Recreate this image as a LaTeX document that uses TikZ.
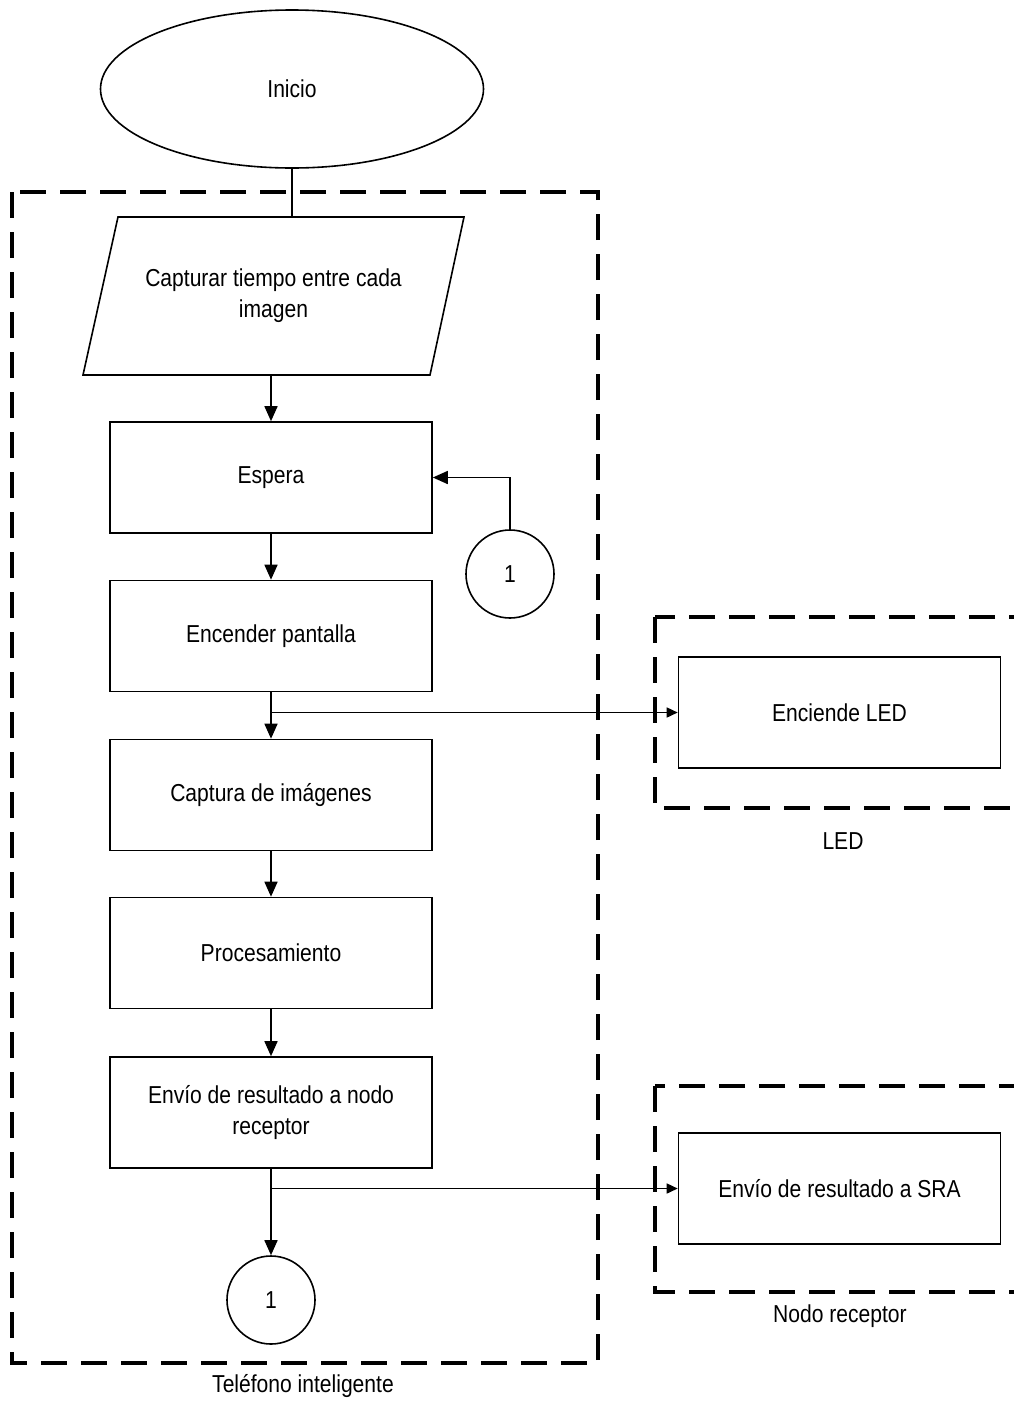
\documentclass[tikz,border=0pt]{standalone}
\usepackage{fontspec}
\setmainfont{Liberation Sans}[FakeStretch=0.86]
\usetikzlibrary{shapes.geometric,arrows.meta}
\begin{document}
\begin{tikzpicture}[x=1pt,y=-1pt,
  every node/.style={font=\fontsize{24.5}{31}\selectfont},
  proc/.style={draw, line width=1.6pt, minimum width=322pt, minimum height=111pt, inner sep=0pt, align=center},
  conn/.style={draw, circle, line width=1.6pt, minimum size=88pt, inner sep=0pt},
  group/.style={draw, line width=3.5pt, dash pattern=on 26pt off 14pt},
  conline/.style={line width=1.6pt},
  arr/.style={line width=1.6pt, -{Triangle[length=15pt,width=13pt]}},
  arrs/.style={line width=1.6pt, -{Triangle[length=11pt,width=10pt]}},
]
\useasboundingbox (0,0) rectangle (1014,1406);
\fill[white] (0,0) rectangle (1014,1406);
% group boxes
\draw[group] (12,192) rectangle (598,1363);
\draw[group] (655,617) rectangle (1034,808);
\draw[group] (655,1086) rectangle (1034,1292);
% nodes
\node[ellipse, draw, line width=1.6pt, minimum width=383pt, minimum height=158pt, inner sep=0pt] (inicio) at (292,89) {Inicio};
\node[minimum width=312pt, minimum height=158pt, inner sep=0pt, align=center] (cap) at (273.5,296) {Capturar tiempo entre cada\\imagen};
\draw[line width=1.6pt, line join=miter] (118,217) -- (464,217) -- (430,375) -- (83,375) -- cycle;
\node[proc] (espera) at (271,477.5) {Espera};
\node[proc] (enc) at (271,636) {Encender pantalla};
\node[proc] (capt) at (271,795) {Captura de imágenes};
\node[proc] (procs) at (271,953) {Procesamiento};
\node[proc] (env) at (271,1112.5) {Envío de resultado a nodo\\receptor};
\node[conn] (c1) at (510,574) {1};
\node[conn] (c2) at (271,1300) {1};
\node[proc] (led) at (839.5,712.5) {Enciende LED};
\node[proc] (sra) at (839.5,1188.5) {Envío de resultado a SRA};
% labels
\node (lbltel) at (303,1386) {Teléfono inteligente};
\node (lblled) at (843,841) {LED};
\node (lblnodo) at (840,1316) {Nodo receptor};
% connectors
\draw[conline] (inicio.south) -- (inicio.south |- cap.north);
\draw[arr] (espera.north |- cap.south) -- (espera.north);
\draw[arr] (espera.south) -- (enc.north);
\draw[arr] (enc.south) -- (capt.north);
\draw[arr] (capt.south) -- (procs.north);
\draw[arr] (procs.south) -- (env.north);
\draw[arr] (env.south) -- (c2.north);
\draw[arr] (c1.north) |- (espera.east);
\coordinate (b1) at (enc.south |- led.west);
\coordinate (b2) at (env.south |- sra.west);
\draw[arrs] (b1) -- (led.west);
\draw[arrs] (b2) -- (sra.west);
\end{tikzpicture}
\end{document}
